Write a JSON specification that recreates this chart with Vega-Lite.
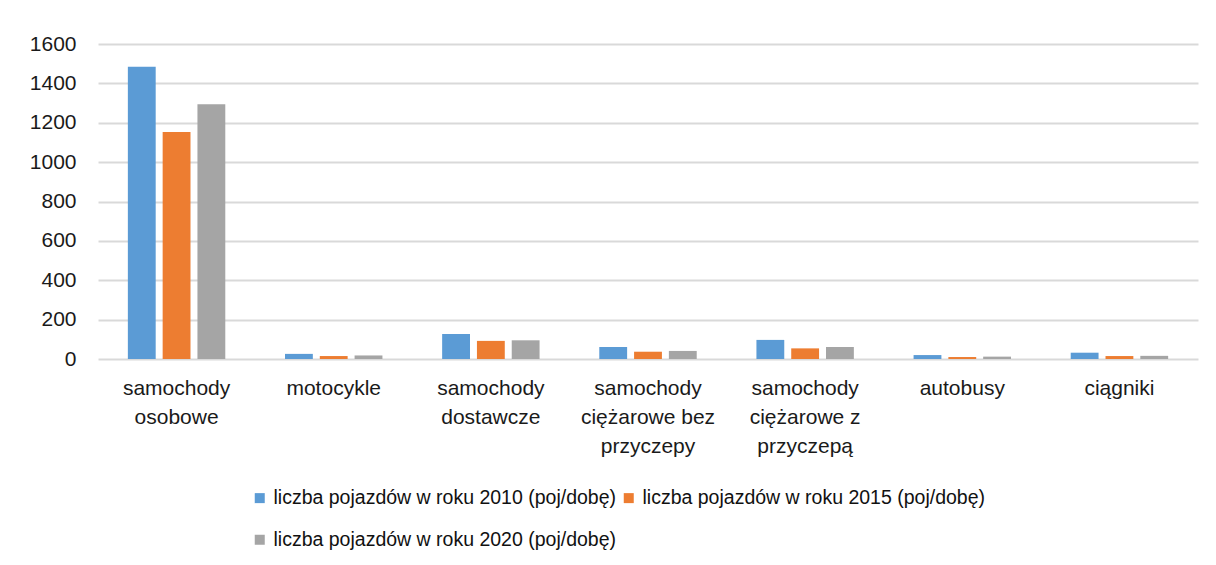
{
  "$schema": "https://vega.github.io/schema/vega-lite/v6.json",
  "autosize": {"type": "none"},
  "width": 1100,
  "height": 315,
  "padding": {"left": 98, "top": 44, "right": 18, "bottom": 206},
  "background": "#ffffff",
  "data": {
    "values": [
      {"kategoria": "samochody osobowe", "seria": "liczba pojazdów w roku 2010 (poj/dobę)", "wartosc": 1485},
      {"kategoria": "samochody osobowe", "seria": "liczba pojazdów w roku 2015 (poj/dobę)", "wartosc": 1153},
      {"kategoria": "samochody osobowe", "seria": "liczba pojazdów w roku 2020 (poj/dobę)", "wartosc": 1294},
      {"kategoria": "motocykle", "seria": "liczba pojazdów w roku 2010 (poj/dobę)", "wartosc": 26},
      {"kategoria": "motocykle", "seria": "liczba pojazdów w roku 2015 (poj/dobę)", "wartosc": 15},
      {"kategoria": "motocykle", "seria": "liczba pojazdów w roku 2020 (poj/dobę)", "wartosc": 18},
      {"kategoria": "samochody dostawcze", "seria": "liczba pojazdów w roku 2010 (poj/dobę)", "wartosc": 127},
      {"kategoria": "samochody dostawcze", "seria": "liczba pojazdów w roku 2015 (poj/dobę)", "wartosc": 92},
      {"kategoria": "samochody dostawcze", "seria": "liczba pojazdów w roku 2020 (poj/dobę)", "wartosc": 95},
      {"kategoria": "samochody ciężarowe bez przyczepy", "seria": "liczba pojazdów w roku 2010 (poj/dobę)", "wartosc": 61},
      {"kategoria": "samochody ciężarowe bez przyczepy", "seria": "liczba pojazdów w roku 2015 (poj/dobę)", "wartosc": 37},
      {"kategoria": "samochody ciężarowe bez przyczepy", "seria": "liczba pojazdów w roku 2020 (poj/dobę)", "wartosc": 41},
      {"kategoria": "samochody ciężarowe z przyczepą", "seria": "liczba pojazdów w roku 2010 (poj/dobę)", "wartosc": 97},
      {"kategoria": "samochody ciężarowe z przyczepą", "seria": "liczba pojazdów w roku 2015 (poj/dobę)", "wartosc": 54},
      {"kategoria": "samochody ciężarowe z przyczepą", "seria": "liczba pojazdów w roku 2020 (poj/dobę)", "wartosc": 61},
      {"kategoria": "autobusy", "seria": "liczba pojazdów w roku 2010 (poj/dobę)", "wartosc": 20},
      {"kategoria": "autobusy", "seria": "liczba pojazdów w roku 2015 (poj/dobę)", "wartosc": 10},
      {"kategoria": "autobusy", "seria": "liczba pojazdów w roku 2020 (poj/dobę)", "wartosc": 12},
      {"kategoria": "ciągniki", "seria": "liczba pojazdów w roku 2010 (poj/dobę)", "wartosc": 32},
      {"kategoria": "ciągniki", "seria": "liczba pojazdów w roku 2015 (poj/dobę)", "wartosc": 15},
      {"kategoria": "ciągniki", "seria": "liczba pojazdów w roku 2020 (poj/dobę)", "wartosc": 16}
    ]
  },
  "mark": {"type": "bar"},
  "encoding": {
    "x": {
      "field": "kategoria",
      "type": "nominal",
      "sort": null,
      "scale": {"paddingInner": 0.38, "paddingOuter": 0.19},
      "axis": {
        "title": null,
        "labelAngle": 0,
        "domain": false,
        "ticks": false,
        "labelPadding": 18,
        "labelFont": "Liberation Sans",
        "labelFontSize": 21,
        "labelColor": "#1a1a1a",
        "labelLineHeight": 29,
        "labelExpr": "datum.label == 'samochody osobowe' ? ['samochody', 'osobowe'] : datum.label == 'samochody dostawcze' ? ['samochody', 'dostawcze'] : datum.label == 'samochody ciężarowe bez przyczepy' ? ['samochody', 'ciężarowe bez', 'przyczepy'] : datum.label == 'samochody ciężarowe z przyczepą' ? ['samochody', 'ciężarowe z', 'przyczepą'] : datum.label"
      }
    },
    "xOffset": {
      "field": "seria",
      "type": "nominal",
      "scale": {"paddingInner": 0.2, "paddingOuter": 0}
    },
    "y": {
      "field": "wartosc",
      "type": "quantitative",
      "scale": {"domain": [0, 1600]},
      "axis": {
        "title": null,
        "values": [0, 200, 400, 600, 800, 1000, 1200, 1400, 1600],
        "format": "d",
        "labelOverlap": false,
        "domain": false,
        "ticks": false,
        "labelPadding": 22,
        "labelFont": "Liberation Sans",
        "labelFontSize": 21,
        "labelColor": "#1a1a1a",
        "gridColor": "#d9d9d9",
        "gridWidth": 2
      }
    },
    "color": {
      "field": "seria",
      "type": "nominal",
      "scale": {"range": ["#5b9bd5", "#ed7d31", "#a5a5a5"]},
      "legend": {
        "title": null,
        "orient": "none",
        "legendX": 152,
        "legendY": 444,
        "direction": "horizontal",
        "columns": 2,
        "symbolType": "square",
        "symbolSize": 100,
        "symbolStrokeWidth": 0,
        "labelFont": "Liberation Sans",
        "labelFontSize": 19.5,
        "labelColor": "#111111",
        "labelOffset": 4,
        "rowPadding": 21,
        "columnPadding": 2,
        "labelLimit": 500
      }
    }
  },
  "config": {
    "view": {"stroke": null}
  }
}
